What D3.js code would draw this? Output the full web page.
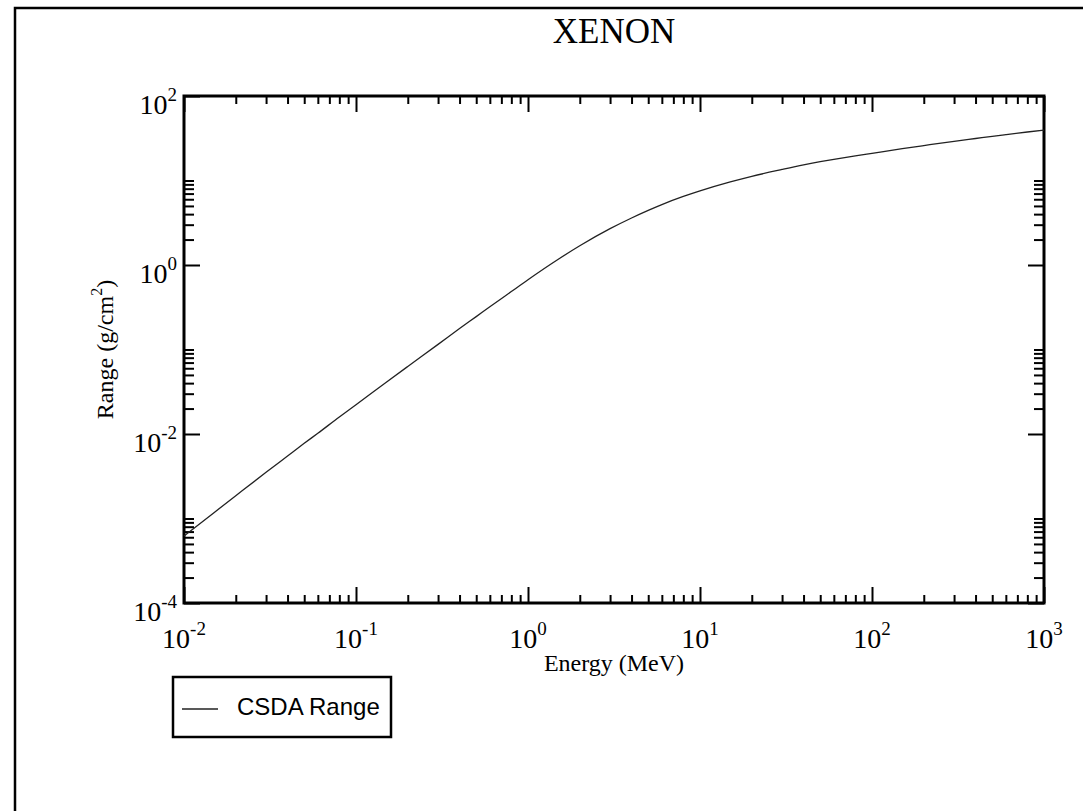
<!DOCTYPE html>
<html>
<head>
  <script src="https://d3js.org/d3.v7.min.js"></script>
  <style>
    body { margin: 0; background: #fff; }
    svg { font-family: "Liberation Serif", "Times New Roman", serif; }
    .tick line { stroke: #000; stroke-width: 2px; }
    .axis path.domain { display: none; }
    .curve { fill: none; stroke: #222; stroke-width: 1.3px; }
    .legend-text { font-family: "Liberation Sans", Arial, sans-serif; font-size: 24px; }
  </style>
</head>
<body>
<div id="chart"></div>
<script>
// CSDA range of electrons in xenon
var energy = [0.01, 0.015, 0.02, 0.03, 0.04, 0.05, 0.06, 0.08, 0.1, 0.15, 0.2, 0.3, 0.4, 0.5, 0.6, 0.8,
              1, 1.5, 2, 3, 4, 5, 6, 8, 10, 15, 20, 30, 40, 50, 60, 80,
              100, 150, 200, 300, 400, 500, 600, 800, 1000];
var csdaRange = [6.2e-4, 1.18e-3, 1.86e-3, 3.52e-3, 5.49e-3, 7.75e-3, 1.02e-2, 1.59e-2, 2.22e-2, 4.1e-2, 6.3e-2, 0.115, 0.177, 0.245, 0.32, 0.485,
                 0.67, 1.17, 1.69, 2.69, 3.60, 4.43, 5.19, 6.47, 7.53, 9.61, 11.2, 13.5, 15.3, 16.7, 17.8, 19.6,
                 21.0, 23.8, 25.9, 29.1, 31.4, 33.3, 34.9, 37.5, 39.5];

var xMajor = [1e-2, 1e-1, 1e0, 1e1, 1e2, 1e3];
var xExp = ["-2", "-1", "0", "1", "2", "3"];
var yMajor = [1e-4, 1e-2, 1e0, 1e2];
var yExp = ["-4", "-2", "0", "2"];

var width = 1083, height = 811;
var pLeft = 184, pRight = 1044, pTop = 96, pBottom = 603;

var svg = d3.select("#chart").append("svg")
  .attr("width", width)
  .attr("height", height);

// outer page frame
svg.append("rect")
  .attr("x", 15).attr("y", 8)
  .attr("width", width + 20).attr("height", height + 20)
  .attr("fill", "none").attr("stroke", "#000").attr("stroke-width", 2.5);

var x = d3.scaleLog().domain([1e-2, 1e3]).range([pLeft, pRight]);
var y = d3.scaleLog().domain([1e-4, 1e2]).range([pBottom, pTop]);

// minor ticks
var xMinor = [];
xMajor.slice(0, -1).forEach(function(m) {
  for (var k = 2; k <= 9; k++) xMinor.push(k * m);
});
var yMinor = [];
yMajor.slice(0, -1).forEach(function(m) {
  for (var k = 2; k <= 10; k++) yMinor.push(k * m);
});

function addAxis(axis, tx, ty) {
  svg.append("g")
    .attr("class", "axis")
    .attr("transform", "translate(" + tx + "," + ty + ")")
    .call(axis);
}

// bottom / top
addAxis(d3.axisBottom(x).tickValues(xMajor).tickSize(-16).tickFormat(""), 0, pBottom);
addAxis(d3.axisBottom(x).tickValues(xMinor).tickSize(-8).tickFormat(""), 0, pBottom);
addAxis(d3.axisTop(x).tickValues(xMajor).tickSize(-16).tickFormat(""), 0, pTop);
addAxis(d3.axisTop(x).tickValues(xMinor).tickSize(-8).tickFormat(""), 0, pTop);
// left / right
addAxis(d3.axisLeft(y).tickValues(yMajor).tickSize(-16).tickFormat(""), pLeft, 0);
addAxis(d3.axisLeft(y).tickValues(yMinor).tickSize(-10).tickFormat(""), pLeft, 0);
addAxis(d3.axisRight(y).tickValues(yMajor).tickSize(-16).tickFormat(""), pRight, 0);
addAxis(d3.axisRight(y).tickValues(yMinor).tickSize(-10).tickFormat(""), pRight, 0);

// plot frame
svg.append("rect")
  .attr("x", pLeft).attr("y", pTop)
  .attr("width", pRight - pLeft).attr("height", pBottom - pTop)
  .attr("fill", "none").attr("stroke", "#000").attr("stroke-width", 3);

// tick labels
var xl = svg.append("g").selectAll("text")
  .data(xMajor).enter()
  .append("text")
  .attr("x", d => x(d))
  .attr("y", 648)
  .attr("text-anchor", "middle")
  .style("font-size", "28px");
xl.append("tspan").text("10");
xl.append("tspan").attr("dy", -13).style("font-size", "19px").text((d, i) => xExp[i]);

var yl = svg.append("g").selectAll("text")
  .data(yMajor).enter()
  .append("text")
  .attr("x", 177)
  .attr("y", d => y(d) + 18)
  .attr("text-anchor", "end")
  .style("font-size", "28px");
yl.append("tspan").text("10");
yl.append("tspan").attr("dy", -13).style("font-size", "19px").text((d, i) => yExp[i]);

// curve
var line = d3.line()
  .x((d, i) => x(energy[i]))
  .y(d => y(d))
  .curve(d3.curveMonotoneX);

svg.append("path")
  .attr("class", "curve")
  .attr("d", line(csdaRange));

// titles
svg.append("text")
  .attr("x", (pLeft + pRight) / 2)
  .attr("y", 43)
  .attr("text-anchor", "middle")
  .style("font-size", "35px")
  .text("XENON");

svg.append("text")
  .attr("x", (pLeft + pRight) / 2)
  .attr("y", 671)
  .attr("text-anchor", "middle")
  .style("font-size", "24px")
  .text("Energy (MeV)");

var yt = svg.append("text")
  .attr("transform", "translate(113," + (pTop + pBottom) / 2 + ") rotate(-90)")
  .attr("text-anchor", "middle")
  .style("font-size", "24px");
yt.append("tspan").text("Range (g/cm");
yt.append("tspan").attr("dy", -11).style("font-size", "16px").text("2");
yt.append("tspan").attr("dy", 11).text(")");

// legend
var legend = svg.append("g");
legend.append("rect")
  .attr("x", 173).attr("y", 677)
  .attr("width", 218).attr("height", 60)
  .attr("fill", "#fff").attr("stroke", "#000").attr("stroke-width", 2.5);
legend.append("line")
  .attr("x1", 182).attr("x2", 218)
  .attr("y1", 709).attr("y2", 709)
  .attr("stroke", "#222").attr("stroke-width", 1.3);
legend.append("text")
  .attr("class", "legend-text")
  .attr("x", 237).attr("y", 715)
  .text("CSDA Range");
</script>
</body>
</html>
